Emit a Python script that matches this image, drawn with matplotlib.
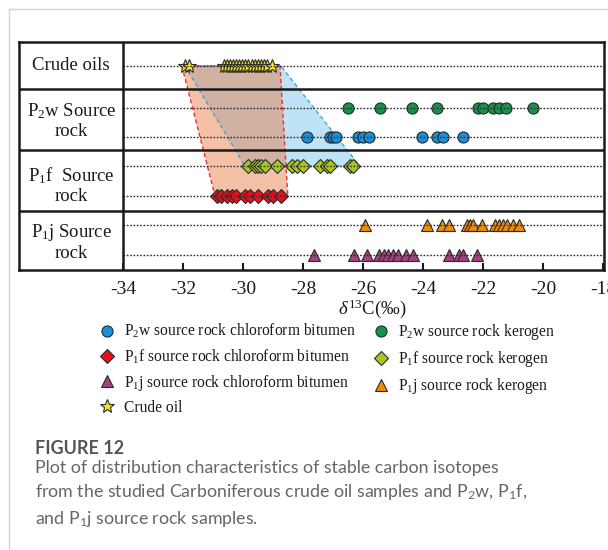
import matplotlib
matplotlib.use("Agg")
import matplotlib.pyplot as plt
from matplotlib.lines import Line2D
from matplotlib.patches import Polygon

plt.rcParams["font.family"] = ["Liberation Serif", "DejaVu Serif"]
plt.rcParams["mathtext.fontset"] = "custom"
plt.rcParams["mathtext.rm"] = "Liberation Serif"
plt.rcParams["mathtext.it"] = "Liberation Serif:italic"

# ---- delta 13C values (per mil) ----
crude_oil = [-31.95, -31.8, -30.65, -30.55, -30.45, -30.35, -30.25, -30.15, -30.05,
             -29.95, -29.85, -29.7, -29.6, -29.5, -29.4, -29.3, -29.2, -29.05]
p2w_kerogen = [-26.51, -25.45, -24.39, -23.56, -22.17, -22.0, -21.67, -21.48, -21.26, -20.34]
p2w_bitumen = [-27.89, -27.1, -27.0, -26.92, -26.17, -26.0, -25.82, -24.04, -23.54, -23.36, -22.67]
p1f_kerogen = [-29.84, -29.62, -29.5, -29.4, -29.28, -28.89, -28.39, -28.22, -28.0,
               -27.43, -27.2, -27.1, -26.45, -26.36]
p1f_bitumen = [-30.89, -30.73, -30.56, -30.39, -30.23, -29.95, -29.78, -29.51, -29.17,
               -29.01, -28.73]
p1j_kerogen = [-25.95, -23.89, -23.39, -23.14, -22.56, -22.45, -22.34, -22.06, -21.62,
               -21.47, -21.34, -21.21, -21.01, -20.82]
p1j_bitumen = [-27.65, -26.32, -25.87, -25.48, -25.32, -25.17, -25.01, -24.84, -24.58,
               -24.34, -23.15, -22.81, -22.67, -22.21]

# shaded correlation envelopes (x at top on crude-oil line, x at bottom)
blue_env = [(-31.95, -28.75), (-29.95, -26.12)]   # oils -> P1f kerogen line
red_env = [(-32.05, -28.78), (-30.95, -28.52)]    # oils -> P1f bitumen line

x_ticks = [-34, -32, -30, -28, -26, -24, -22, -20, -18]

# ---- layout (vertical coordinates of the table, bottom = 0) ----
y_top = 228
row_div = [59, 120, 181]
lv = dict(crude=204, p2w_k=162.5, p2w_b=133, p1f_k=104, p1f_b=74.5, p1j_k=45, p1j_b=15)
x_left = -37.48
x_right = -17.98

W, H = 608, 550
fig = plt.figure(figsize=(W / 100, H / 100), dpi=100)

# card frame
fig.add_artist(Line2D([9 / W, 9 / W], [0, 1 - 9 / H], transform=fig.transFigure,
                      color="#d4d4d4", lw=1.0))
fig.add_artist(Line2D([9 / W, 1], [1 - 9 / H, 1 - 9 / H], transform=fig.transFigure,
                      color="#d4d4d4", lw=1.0))

ax = fig.add_axes([19 / W, 1 - 270 / H, (604 - 19) / W, (270 - 42) / H])
ax.set_xlim(x_left, x_right)
ax.set_ylim(0, y_top)
for s in ax.spines.values():
    s.set_linewidth(1.8)
    s.set_color("#1a1a1a")

ax.set_xticks(x_ticks)
ax.set_xticklabels([f"{t:d}" for t in x_ticks], fontsize=14)
ax.tick_params(axis="x", direction="in", length=5, width=1.5, pad=8, colors="#1a1a1a")
ax.set_yticks([])

# table grid
ax.axvline(-34, color="#1a1a1a", lw=1.8, zorder=5)
for yd in row_div:
    ax.axhline(yd, color="#1a1a1a", lw=1.8, zorder=5)

# dotted level lines
for y in lv.values():
    ax.plot([-34, x_right], [y, y], color="#2a2a2a", lw=1.0, ls=(0, (1.2, 1.2)), zorder=4)

# envelopes
def envelope(env, y_bottom, face, edge, alpha):
    (t0, t1), (b0, b1) = env
    pts = [(t0, lv["crude"]), (t1, lv["crude"]), (b1, y_bottom), (b0, y_bottom)]
    ax.add_patch(Polygon(pts, closed=True, facecolor=face, alpha=alpha, edgecolor="none", zorder=1))
    ax.add_patch(Polygon(pts, closed=True, facecolor="none", edgecolor=edge, lw=1.0,
                         ls=(0, (3, 2)), zorder=1.5))

envelope(blue_env, lv["p1f_k"], "#98d2f2", "#3aa6e0", 0.62)
envelope(red_env, lv["p1f_b"], "#e8763a", "#e83030", 0.45)

mk = dict(ls="none", markeredgecolor="#2b2b2b", markeredgewidth=0.8, zorder=3)
series = [
    (p2w_bitumen, lv["p2w_b"], "o", "#1b8fd8", 8, "P$_\\mathrm{2}$w source rock chloroform bitumen"),
    (p1f_bitumen, lv["p1f_b"], "D", "#e5101c", 7, "P$_\\mathrm{1}$f source rock chloroform bitumen"),
    (p1j_bitumen, lv["p1j_b"], "^", "#a3407f", 8.5, "P$_\\mathrm{1}$j source rock chloroform bitumen"),
    (crude_oil, lv["crude"], "*", "#f5e61a", 10, "Crude oil"),
    (p2w_kerogen, lv["p2w_k"], "o", "#12934a", 8, "P$_\\mathrm{2}$w source rock kerogen"),
    (p1f_kerogen, lv["p1f_k"], "D", "#a8c81e", 7, "P$_\\mathrm{1}$f source rock kerogen"),
    (p1j_kerogen, lv["p1j_k"], "^", "#f08a0c", 8.5, "P$_\\mathrm{1}$j source rock kerogen"),
]
handles = []
for vals, y, m, c, ms, lab in series:
    ax.plot(vals, [y] * len(vals), marker=m, color=c, markersize=ms, **mk)
    handles.append(Line2D([], [], marker=m, color=c, markersize=ms, label=lab, **mk))

# row labels
xc = (x_left - 34) / 2
lab_kw = dict(ha="center", va="center", fontsize=13.5, color="#1a1a1a", linespacing=1.15)
ax.text(xc, lv["crude"], "Crude oils", **lab_kw)
ax.text(xc, 149, "P$_\\mathrm{2}$w Source\nrock", **lab_kw)
ax.text(xc, 85, "P$_\\mathrm{1}$f  Source\nrock", **lab_kw)
ax.text(xc, 28, "P$_\\mathrm{1}$j Source\nrock", **lab_kw)

fig.text(372 / W, 1 - 309 / H, "$\\mathit{\\delta}^{\\mathrm{13}}$C(‰)", ha="center", va="center",
         fontsize=13.5, color="#1a1a1a")

leg = fig.legend(handles=handles, ncol=2, loc="upper left",
                 bbox_to_anchor=(99 / W, 1 - 322 / H), frameon=False,
                 fontsize=11.2, handlelength=1.0, handletextpad=0.6,
                 labelspacing=0.45, columnspacing=1.15, borderaxespad=0, borderpad=0)
for t in leg.get_texts():
    t.set_color("#1a1a1a")

cap_font = ["Lato", "DejaVu Sans"]
fig.text(35 / W, 1 - 448 / H, "FIGURE 12", fontsize=13, fontweight="bold",
         color="#555555", family=cap_font, va="center", ha="left")
caption = ("Plot of distribution characteristics of stable carbon isotopes\n"
           "from the studied Carboniferous crude oil samples and P$_\\mathregular{2}$w, P$_\\mathregular{1}$f,\n"
           "and P$_\\mathregular{1}$j source rock samples.")
fig.text(35 / W, 1 - 460 / H, caption, fontsize=12.75, color="#666666", family=cap_font,
         va="top", ha="left", linespacing=1.42)

fig.savefig("out.png", dpi=100)
